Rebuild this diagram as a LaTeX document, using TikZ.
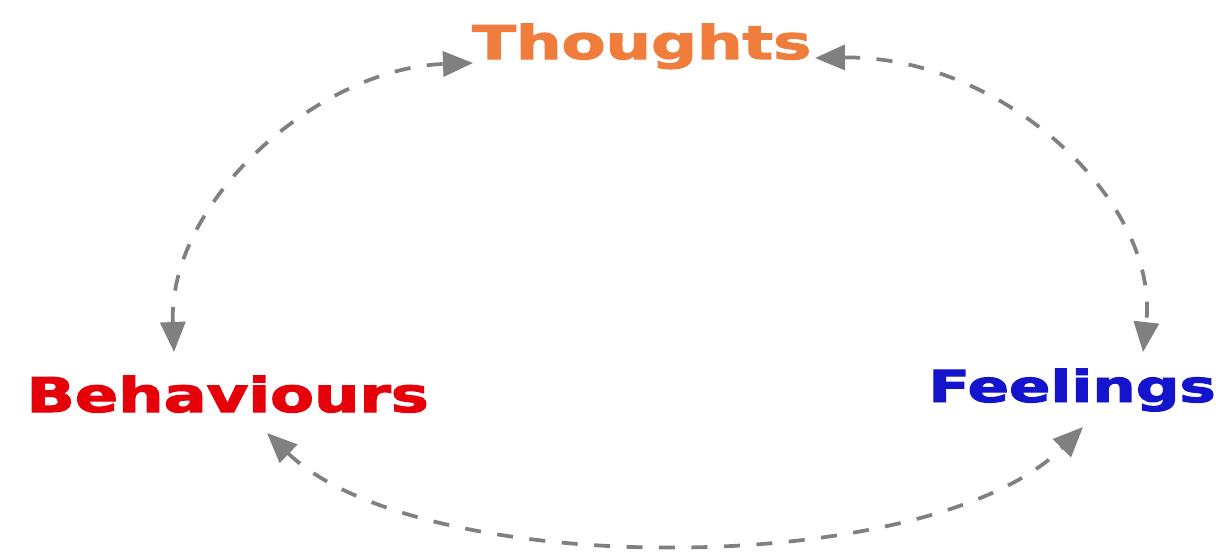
\documentclass[tikz,border=0pt]{standalone}
\usepackage{fontspec}
\setmainfont{DejaVu Sans}
\newfontfamily\heavyfont[FakeBold=2.2]{DejaVu Sans Bold}
\usetikzlibrary{arrows.meta}
\definecolor{thc}{RGB}{240,125,60}
\definecolor{bec}{RGB}{230,0,10}
\definecolor{fec}{RGB}{20,20,205}
\definecolor{arcgray}{RGB}{128,128,128}
\begin{document}
\begin{tikzpicture}[x=0.02cm,y=-0.02cm,
  lbl/.style={anchor=base west, inner sep=0pt, font=\heavyfont},
  link/.style={draw=arcgray, line width=0.75mm, dash pattern=on 3.2mm off 3.3mm, {Triangle[length=6mm,width=5mm]}-{Triangle[length=6mm,width=5mm]}}]
\useasboundingbox (0,0) rectangle (1226,551);
\node[lbl, text=thc] (th) at (472,59) {\fontsize{26.5}{30}\selectfont\scalebox{1.375}[1]{Thoughts}};
\node[lbl, text=bec] (be) at (26,412) {\fontsize{27.3}{30}\selectfont\scalebox{1.33}[1]{Behaviours}};
\node[lbl, text=fec] (fe) at (928,402) {\fontsize{25}{30}\selectfont\scalebox{1.39}[1]{Feelings}};
\coordinate (a1s) at (174,352);
\coordinate (a1e) at (473,63);
\coordinate (a2s) at (815,58);
\coordinate (a2e) at (1143,352);
\coordinate (a3s) at (267,433);
\coordinate (a3e) at (1083,427);
\draw[link] (a1s) .. controls (168,200) and (320,68) .. (a1e);
\draw[link] (a2s) .. controls (1000,55) and (1160,200) .. (a2e);
\draw[link] (a3s) .. controls (420,580) and (930,580) .. (a3e);
\end{tikzpicture}
\end{document}
